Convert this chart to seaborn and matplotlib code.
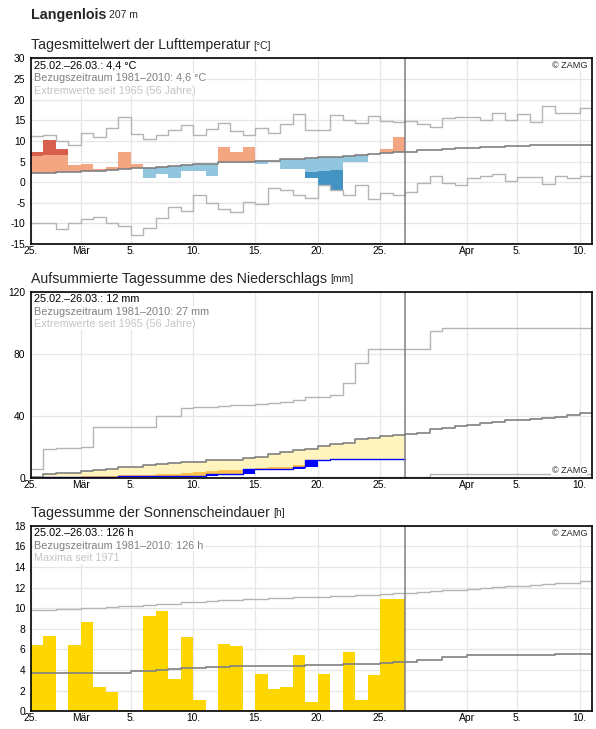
import numpy as np
import matplotlib
matplotlib.use('Agg')
import matplotlib.pyplot as plt
import seaborn as sns

# Tage ab 25.02. (Index 0) bis 10.04. (Index 44), Messwerte bis 26.03. (Index 29)
tick_tage = [0, 4, 8, 13, 18, 23, 28, 35, 39, 44]
tick_namen = ['25.', 'Mär', '5.', '10.', '15.', '20.', '25.', 'Apr', '5.', '10.']

# Lufttemperatur (Tagesmittel, °C)
temp_ist = [7.3, 10.2, 8.1, 4.2, 4.4, 3.2, 3.7, 7.3, 4.4, 1.1, 2.1, 1.1, 2.6, 2.6, 1.6,
            8.5, 7.3, 8.5, 4.3, 4.9, 3.3, 3.3, 1.1, -0.7, -1.9, 4.8, 4.8, 6.8, 8.1, 11.0]
temp_normal = [2.2, 2.3, 2.4, 2.4, 2.7, 2.8, 2.9, 3.1, 3.4, 3.5, 3.8, 3.9, 4.2, 4.3, 4.5,
               4.8, 5.0, 5.0, 5.1, 5.2, 5.5, 5.5, 5.8, 6.0, 6.1, 6.3, 6.5, 6.8, 7.1, 7.3,
               7.4, 7.7, 7.9, 8.1, 8.3, 8.4, 8.5, 8.6, 8.7, 8.8, 8.9, 9.0, 9.0, 9.1, 9.1]
temp_max = [11.2, 11.4, 10.0, 8.9, 12.0, 10.9, 13.1, 15.9, 11.8, 10.4, 11.4, 12.6, 13.9, 11.4, 12.9,
            14.3, 12.3, 11.5, 13.1, 12.0, 14.0, 16.5, 12.6, 12.6, 16.2, 15.2, 14.4, 16.0, 14.9, 14.6,
            14.8, 14.1, 13.5, 15.5, 15.7, 15.7, 15.2, 16.8, 15.2, 16.5, 14.7, 18.4, 16.8, 16.8, 18.0]
temp_min = [-10.0, -9.8, -11.4, -10.0, -9.0, -8.4, -10.0, -10.6, -12.8, -11.2, -8.6, -6.1, -7.0, -3.1, -5.0,
            -6.6, -7.3, -4.9, -5.3, -1.5, -2.0, -3.1, -3.9, -0.8, -1.9, -3.1, -0.8, -4.2, -2.6, -3.1,
            -2.5, -0.2, 1.4, -0.2, -0.8, 1.0, 1.4, 1.9, 0.2, 1.2, 1.2, -0.5, 1.4, 1.0, 1.6]
schwelle_warm = [6.4, 6.6, 6.6, 6.7, 7.0, 7.1, 7.2, 7.6, 7.8, 7.8, 8.1, 8.2, 8.5, 8.6, 8.8,
                 9.2, 9.3, 9.3, 9.4, 9.5, 9.7, 9.8, 10.0, 10.2, 10.3, 10.5, 10.7, 11.1, 11.4, 11.6]
schwelle_kalt = [-1.0, -0.9, -0.8, -0.8, -0.5, -0.4, -0.3, -0.1, 0.2, 0.3, 0.6, 0.7, 1.0, 1.1, 1.2,
                 1.6, 1.8, 1.8, 1.9, 2.0, 2.3, 2.3, 2.5, 2.8, 3.0, 3.1, 3.3, 3.6, 3.9, 4.1]

# Niederschlag (Tagessumme mm, aufsummiert)
nied_tag = [0.0, 0.2, 0.0, 0.0, 0.0, 0.0, 0.0, 0.8, 0.0, 0.0, 0.0, 0.0, 0.0, 0.0, 1.1,
            0.0, 0.0, 3.7, 0.0, 0.0, 0.0, 0.8, 4.8, 0.2, 0.5, 0.0, 0.0, 0.0, 0.0, 0.0]
nied_normal = [0.3, 2.2, 3.2, 3.2, 3.9, 4.8, 5.8, 6.5, 7.1, 7.8, 8.6, 9.5, 9.9, 10.3, 11.2,
               11.2, 11.3, 12.3, 13.0, 15.1, 16.4, 17.5, 18.5, 20.3, 21.8, 22.4, 24.8, 25.7, 27.0, 27.6,
               28.0, 28.7, 31.5, 32.3, 33.0, 34.1, 35.1, 36.2, 37.1, 37.5, 38.1, 38.8, 39.4, 40.5, 41.6]
nied_max = [5.4, 18.3, 19.0, 19.0, 19.6, 32.8, 32.8, 32.8, 32.8, 32.8, 39.9, 39.9, 44.8, 45.3, 45.7,
            46.3, 46.8, 46.8, 47.6, 48.1, 49.1, 50.2, 51.9, 51.9, 53.2, 61.0, 73.9, 83.0, 83.0, 83.0,
            83.0, 83.0, 95.0, 96.5, 96.5, 96.5, 96.5, 96.5, 96.5, 96.5, 96.5, 96.5, 96.5, 96.5, 96.5]
nied_min = [0.0, 0.0, 0.0, 0.0, 0.0, 0.0, 0.0, 0.0, 0.0, 0.0, 0.0, 0.0, 0.0, 0.0, 0.0,
            0.0, 0.0, 0.0, 0.0, 0.0, 0.4, 0.4, 0.4, 0.4, 0.4, 0.4, 0.4, 0.4, 0.4, 0.4,
            0.6, 0.6, 2.2, 2.2, 2.2, 2.2, 2.2, 2.2, 2.2, 2.2, 2.2, 2.2, 2.2, 2.2, 2.2]
nied_schwelle = [0.0, 0.2, 0.4, 0.6, 0.8, 1.1, 1.1, 1.5, 1.7, 1.9, 2.3, 2.4, 3.2, 3.4, 4.3,
                 4.7, 4.8, 5.2, 5.9, 6.9, 6.9, 8.0, 9.0, 9.5, 10.0, 10.4, 10.8, 11.2, 11.6, 12.0]

# Sonnenscheindauer (h)
sonne_ist = [6.4, 7.3, 0.0, 6.4, 8.7, 2.3, 1.9, 0.1, 0.0, 9.2, 9.7, 3.1, 7.2, 1.1, 0.0,
             6.5, 6.3, 0.1, 3.6, 2.2, 2.3, 5.5, 0.9, 3.6, 0.0, 5.7, 1.1, 3.5, 10.9, 10.9]
sonne_normal = [3.70, 3.70, 3.70, 3.70, 3.70, 3.75, 3.75, 3.75, 3.87, 3.87, 3.97, 4.10, 4.17, 4.17, 4.26,
                4.33, 4.39, 4.39, 4.39, 4.39, 4.39, 4.39, 4.46, 4.46, 4.46, 4.56, 4.56, 4.56, 4.65, 4.75,
                4.82, 4.92, 5.01, 5.24, 5.24, 5.44, 5.44, 5.44, 5.44, 5.44, 5.44, 5.44, 5.54, 5.54, 5.54]
sonne_max = [9.83, 9.83, 9.90, 9.90, 9.99, 9.99, 10.12, 10.22, 10.22, 10.35, 10.45, 10.45, 10.55, 10.64, 10.71,
             10.81, 10.81, 10.87, 10.87, 10.97, 10.97, 11.04, 11.04, 11.04, 11.17, 11.17, 11.26, 11.26, 11.33, 11.43,
             11.43, 11.56, 11.65, 11.75, 11.75, 11.85, 11.95, 12.08, 12.18, 12.18, 12.27, 12.37, 12.47, 12.47, 12.60]

# Stil
sns.set_theme(style='whitegrid')
plt.rcParams['font.family'] = ['Liberation Sans', 'DejaVu Sans']
plt.rcParams['axes.unicode_minus'] = False

W, H = 596, 729
fig = plt.figure(figsize=(W / 100, H / 100), dpi=100)
fig.patch.set_facecolor('white')

HELLGRAU = '#b4b4b4'
DUNKELGRAU = '#808080'


def achse(top):
    return fig.add_axes([31 / W, 1 - (top + 185.5) / H, 561 / W, 185.5 / H])


def stufe(ax, werte, farbe, lw=1.0):
    y = list(werte) + [werte[-1]]
    x = np.arange(len(y))
    sns.lineplot(x=x, y=y, drawstyle='steps-post', color=farbe, lw=lw, ax=ax, zorder=3)


def rahmen(ax, ylim, yticks):
    ax.set_xlim(0, 45)
    ax.set_ylim(*ylim)
    ax.set_xticks(tick_tage)
    ax.set_xticklabels(tick_namen)
    ax.set_yticks(yticks)
    ax.set_yticklabels([str(v) for v in yticks])
    ax.set_xlabel('')
    ax.set_ylabel('')
    ax.grid(True, color='#e6e6e6', lw=0.9)
    ax.set_axisbelow(True)
    ax.tick_params(length=0, labelsize=7.4, colors='black')
    ax.tick_params(axis='x', pad=1.5)
    ax.tick_params(axis='y', pad=4)
    for s in ax.spines.values():
        s.set_color('black')
        s.set_linewidth(1.2)
        s.set_zorder(6)
    ax.axvline(30, color=DUNKELGRAU, lw=1.1, zorder=4)
    ax.set_facecolor('white')


def info(ax, zeilen):
    farben = ['black', DUNKELGRAU, '#c4c4c4']
    for i, (z, f) in enumerate(zip(zeilen, farben)):
        ax.text(3.5 / 561, 1 - (2.5 + i * 12.4) / 185.5, z, transform=ax.transAxes,
                va='top', ha='left', fontsize=7.8, color=f, zorder=5,
                bbox=dict(fc='white', ec='none', pad=0.4))


def zamg(ax, oben=True):
    if oben:
        ax.text(1 - 5 / 561, 1 - 3 / 185.5, '© ZAMG', transform=ax.transAxes, va='top',
                ha='right', fontsize=6.6, zorder=5, bbox=dict(fc='white', ec='none', pad=0.3))
    else:
        ax.text(1 - 5 / 561, 2.5 / 185.5, '© ZAMG', transform=ax.transAxes, va='bottom',
                ha='right', fontsize=6.6, zorder=5, bbox=dict(fc='white', ec='none', pad=0.3))


def titel(y_px, haupt, zusatz, gross, klein, fett=False):
    t = fig.text(31 / W, 1 - y_px / H, haupt, fontsize=gross, va='baseline', ha='left',
                 fontweight='bold' if fett else 'normal')
    bb = t.get_window_extent(renderer=fig.canvas.get_renderer())
    fig.text((bb.x1 + 3) / W, 1 - y_px / H, zusatz, fontsize=klein, va='baseline', ha='left')


tage = np.arange(30)

# --- Temperatur ---
ax1 = achse(58.5)
ist = np.array(temp_ist)
norm = np.array(temp_normal[:30])
sw = np.array(schwelle_warm)
sk = np.array(schwelle_kalt)
m = ist > norm
ax1.bar(tage[m], (np.minimum(ist, sw) - norm)[m], bottom=norm[m], width=1, align='edge',
        color='#f4a582', lw=0, zorder=2)
m = ist > sw
ax1.bar(tage[m], (ist - sw)[m], bottom=sw[m], width=1, align='edge', color='#d6604d', lw=0, zorder=2)
m = ist < norm
unten = np.maximum(ist, sk)
ax1.bar(tage[m], (norm - unten)[m], bottom=unten[m], width=1, align='edge', color='#92c5de', lw=0, zorder=2)
m = ist < sk
ax1.bar(tage[m], (sk - ist)[m], bottom=ist[m], width=1, align='edge', color='#4393c3', lw=0, zorder=2)
stufe(ax1, temp_max, HELLGRAU)
stufe(ax1, temp_min, HELLGRAU)
stufe(ax1, temp_normal, DUNKELGRAU, 1.2)
rahmen(ax1, (-15, 30), list(range(-15, 31, 5)))
info(ax1, ['25.02.–26.03.: 4,4 °C', 'Bezugszeitraum 1981–2010: 4,6 °C', 'Extremwerte seit 1965 (56 Jahre)'])
zamg(ax1)

# --- Niederschlag ---
ax2 = achse(292)
kum = np.cumsum(nied_tag)
vorher = kum - np.array(nied_tag)
nn = np.array(nied_normal[:30])
ns = np.array(nied_schwelle)
gelb_unten = np.maximum(kum, ns)
m = nn > gelb_unten
ax2.bar(tage[m], (nn - gelb_unten)[m], bottom=gelb_unten[m], width=1, align='edge',
        color='#fff4bd', lw=0, zorder=2)
m = ns > kum
ax2.bar(tage[m], (ns - kum)[m], bottom=kum[m], width=1, align='edge', color='#ffc24f', lw=0, zorder=2)
ax2.bar(tage, kum - vorher, bottom=vorher, width=1, align='edge', color='#0000ff', lw=0, zorder=2)
stufe(ax2, list(kum), '#0000ff', 1.0)
stufe(ax2, nied_max, HELLGRAU)
stufe(ax2, nied_min, HELLGRAU)
stufe(ax2, nied_normal, DUNKELGRAU, 1.2)
rahmen(ax2, (0, 120), [0, 40, 80, 120])
info(ax2, ['25.02.–26.03.: 12 mm', 'Bezugszeitraum 1981–2010: 27 mm', 'Extremwerte seit 1965 (56 Jahre)'])
zamg(ax2, oben=False)

# --- Sonnenschein ---
ax3 = achse(525.7)
sns.barplot(x=tage + 0.5, y=sonne_ist, native_scale=True, width=1, color='#ffd700', saturation=1,
            errorbar=None, linewidth=0, ax=ax3, zorder=2)
stufe(ax3, sonne_max, HELLGRAU)
stufe(ax3, sonne_normal, DUNKELGRAU, 1.2)
rahmen(ax3, (0, 18), list(range(0, 19, 2)))
info(ax3, ['25.02.–26.03.: 126 h', 'Bezugszeitraum 1981–2010: 126 h', 'Maxima seit 1971'])
zamg(ax3)

# Titel
titel(18.5, 'Langenlois', '207 m', 10.3, 7.5, fett=True)
titel(49, 'Tagesmittelwert der Lufttemperatur', '[°C]', 10.2, 7.4)
titel(282.5, 'Aufsummierte Tagessumme des Niederschlags', '[mm]', 10.2, 7.4)
titel(516.5, 'Tagessumme der Sonnenscheindauer', '[h]', 10.2, 7.4)

fig.savefig('out.png', dpi=100, facecolor='white')
